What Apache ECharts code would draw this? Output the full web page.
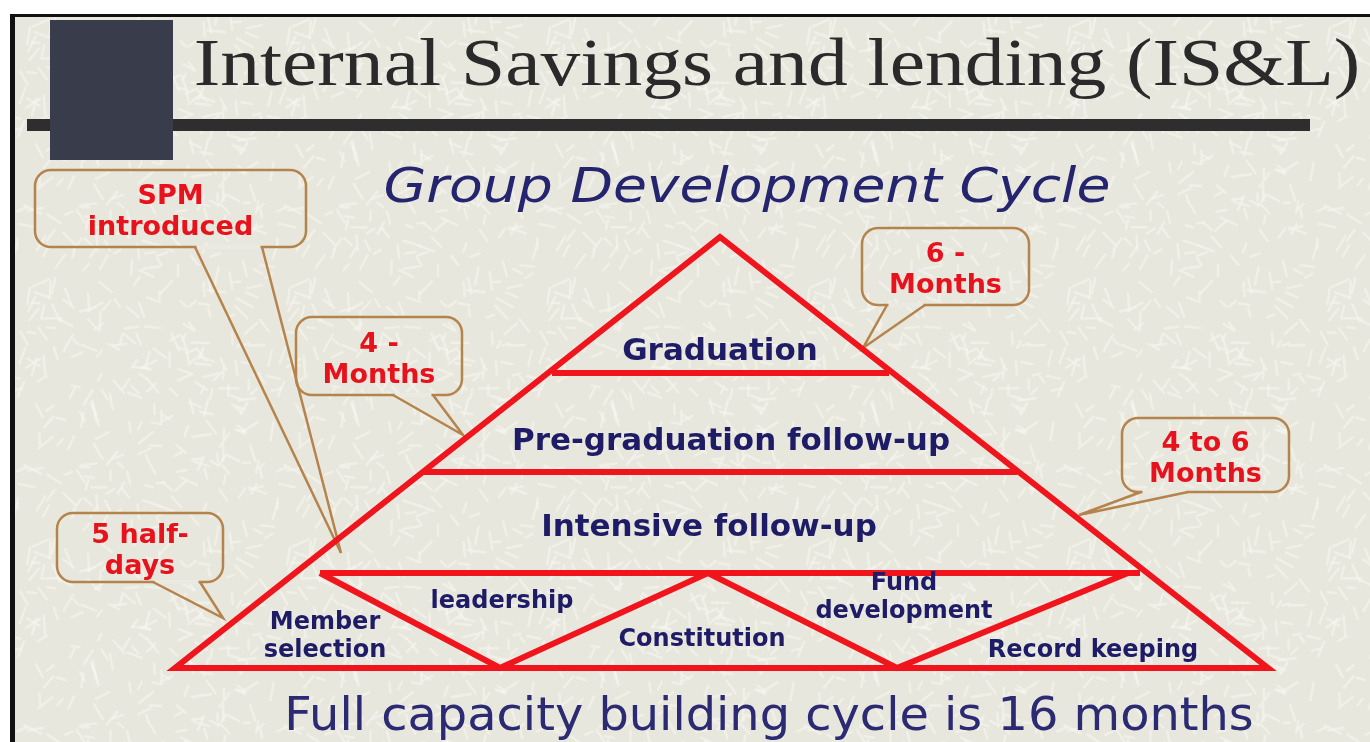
<!DOCTYPE html>
<html>
<head>
<meta charset="utf-8">
<title>Group Development Cycle</title>
<script src="https://cdn.jsdelivr.net/npm/echarts@6/dist/echarts.min.js"></script>
<style>
  html, body { margin: 0; padding: 0; background: #fff; }
  #chart { width: 1370px; height: 742px; }
</style>
</head>
<body>
<div id="chart"></div>
<script>
// diagram space follows the slide: x to the right, y downwards
const outline = [[720, 668], [1268, 668], [720, 237], [175, 668], [720, 668]];
const tierRules = [
  [[552, 373], [889, 373]],
  [[424, 472], [1017, 472]],
  [[320, 573], [1140, 573]]
];
const moduleZigzag = [[320, 573], [500, 668], [708, 573], [897, 668], [1128, 573]];

const stageNames = ['Graduation', 'Pre-graduation follow-up', 'Intensive follow-up'];
const stageSpots = [[720, 352], [731, 442], [709, 528]];

const moduleNames = ['Member\nselection', 'leadership', 'Constitution', 'Fund\ndevelopment', 'Record keeping'];
const moduleSpots = [[325, 637], [502, 602], [702, 640], [904, 598], [1093, 651]];

const calloutTexts = ['SPM\nintroduced', '4 -\nMonths', '5 half-\ndays', '6 -\nMonths', '4 to 6\nMonths'];
const calloutBoxes = [[35, 170, 306, 247], [296, 317, 462, 395], [57, 513, 223, 582], [862, 228, 1029, 305], [1122, 418, 1289, 492]];
const calloutNecks = [[195, 262], [393, 433], [153, 200], [887, 925], [1141, 1188]];
const calloutTips = [[341, 553], [463, 435], [223, 618], [863, 348], [1079, 515]];

const BG = '#e8e7dd';
const RED = '#f0141c';
const TXT_RED = '#e8121c';
const NAVY = '#1e1c66';
const BROWN = '#b5834c';
const SANS = '"DejaVu Sans", Verdana, sans-serif';

// paper texture: soft pale scratches on the beige slide background
function paper() {
  const n = 260;
  const c = document.createElement('canvas');
  c.width = n; c.height = n;
  const g = c.getContext('2d');
  g.fillStyle = BG;
  g.fillRect(0, 0, n, n);
  g.strokeStyle = 'rgba(246,246,240,0.55)';
  g.lineWidth = 2.6;
  g.lineCap = 'round';
  let s = 11;
  const next = () => (s = (s * 16807) % 2147483647) / 2147483647;
  for (let k = 0; k < 260; k++) {
    const x = next() * n, y = next() * n, a = next() * Math.PI, l = 7 + next() * 12;
    for (const dx of [-n, 0, n]) {
      for (const dy of [-n, 0, n]) {
        g.beginPath();
        g.moveTo(x + dx, y + dy);
        g.lineTo(x + dx + Math.cos(a) * l, y + dy + Math.sin(a) * l);
        g.stroke();
      }
    }
  }
  return c;
}

const chart = echarts.init(document.getElementById('chart'));

function segment(points) {
  return {
    type: 'line',
    data: points,
    symbol: 'none',
    silent: true,
    z: 4,
    lineStyle: { color: RED, width: 6, join: 'miter', cap: 'butt' }
  };
}

function renderCallout(params, api) {
  const i = params.dataIndex;
  const tl = api.coord([api.value(0), api.value(1)]);
  const br = api.coord([api.value(2), api.value(3)]);
  const n0 = api.coord([api.value(4), api.value(3)]);
  const n1 = api.coord([api.value(5), api.value(3)]);
  const tip = api.coord([api.value(6), api.value(7)]);
  return {
    type: 'group',
    children: [
      {
        type: 'rect',
        shape: { x: tl[0], y: tl[1], width: br[0] - tl[0], height: br[1] - tl[1], r: 16 },
        style: { fill: 'none', stroke: BROWN, lineWidth: 2.5 }
      },
      {
        type: 'line',
        shape: { x1: n0[0] + 1.5, y1: br[1], x2: n1[0] - 1.5, y2: br[1] },
        style: { stroke: '#ebeae2', lineWidth: 4 }
      },
      {
        type: 'polyline',
        shape: { points: [n0, tip, n1] },
        style: { fill: 'none', stroke: BROWN, lineWidth: 2.5 }
      },
      {
        type: 'text',
        style: {
          text: calloutTexts[i],
          x: (tl[0] + br[0]) / 2,
          y: (tl[1] + br[1]) / 2 + 4,
          align: 'center',
          verticalAlign: 'middle',
          fill: TXT_RED,
          fontFamily: SANS,
          fontWeight: 'bold',
          fontSize: 27,
          lineHeight: 31
        }
      }
    ]
  };
}

function labels(names, spots, size, lh) {
  return {
    type: 'scatter',
    symbolSize: 1,
    silent: true,
    z: 5,
    itemStyle: { color: 'transparent', opacity: 1 },
    label: {
      show: true,
      position: 'inside',
      formatter: '{b}',
      color: NAVY,
      opacity: 1,
      fontFamily: SANS,
      fontWeight: 'bold',
      fontSize: size,
      lineHeight: lh,
      align: 'center'
    },
    data: names.map((n, i) => ({ name: n, value: spots[i] }))
  };
}

// slide headings, stretched a little to the width of the original typefaces
function heading(text, x, y, font, color, stretch) {
  return {
    type: 'text', x: x, y: y, scaleX: stretch,
    style: { text: text, x: 0, y: 0, align: 'center', verticalAlign: 'middle', fill: color, font: font }
  };
}

chart.setOption({
  animation: false,
  backgroundColor: { image: paper(), repeat: 'repeat' },
  grid: { left: 0, right: 0, top: 0, bottom: 0 },
  xAxis: { type: 'value', min: 0, max: 1370, show: false },
  yAxis: { type: 'value', min: 0, max: 742, inverse: true, show: false },
  graphic: [
    { type: 'rect', shape: { x: 0, y: 0, width: 1370, height: 14 }, style: { fill: '#fff' } },
    { type: 'rect', shape: { x: 0, y: 0, width: 10, height: 742 }, style: { fill: '#fff' } },
    { type: 'rect', shape: { x: 10, y: 14, width: 1360, height: 3 }, style: { fill: '#111' } },
    { type: 'rect', shape: { x: 10, y: 14, width: 5, height: 728 }, style: { fill: '#111' } },
    { type: 'rect', shape: { x: 27, y: 119, width: 1283, height: 12 }, style: { fill: '#2e2e2e' } },
    { type: 'rect', shape: { x: 50, y: 20, width: 123, height: 140 }, style: { fill: '#393c4b' } },
    heading('Internal Savings and lending (IS&L)', 777, 67, '68px "Liberation Serif", serif', '#2a2a2a', 1.17),
    heading('Group Development Cycle', 747, 190, 'italic 48px ' + SANS, '#25246e', 1.15),
    heading('Full capacity building cycle is 16 months', 769, 718, '46px ' + SANS, '#2b2a72', 1.04)
  ],
  series: [
    {
      type: 'custom',
      z: 3,
      silent: true,
      renderItem: renderCallout,
      encode: { x: [0, 2], y: [1, 3] },
      data: calloutBoxes.map((b, i) => b.concat(calloutNecks[i], calloutTips[i]))
    },
    segment(outline),
    ...tierRules.map(segment),
    segment(moduleZigzag),
    labels(stageNames, stageSpots, 31, 36),
    labels(moduleNames, moduleSpots, 24, 28)
  ]
});
</script>
</body>
</html>
